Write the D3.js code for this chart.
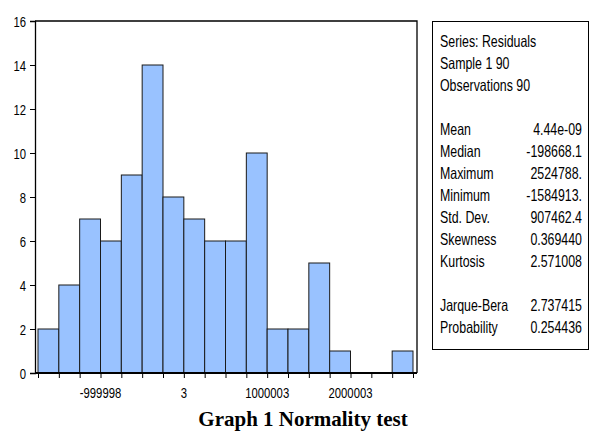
<!DOCTYPE html>
<html lang="en">
  <head>
    <meta charset="utf-8">
    <title>Normality test</title>
    <script src="https://cdn.jsdelivr.net/npm/d3@7"></script>
    <style>
      body { margin: 0; background: #fff; }
      text { font-family: "Liberation Sans", Arial, sans-serif; }
    </style>
  </head>
  <body>
    <div id="chart"></div>
    <script>
      // histogram of residuals
      const binEdges = [-1749998, -1499998, -1249998, -999998, -749998, -499998, -249998, 2,
                        250002, 500002, 750002, 1000002, 1250002, 1500002, 1750002, 2000002,
                        2250002, 2500002, 2750002];
      const counts = [2, 4, 7, 6, 9, 14, 8, 7, 6, 6, 10, 2, 2, 5, 1, 0, 0, 1];
      const xLabelValues = [-999998, 2, 1000002, 2000002];
      const xLabelText = ["-999998", "3", "1000003", "2000003"];
      const yTicks = [0, 2, 4, 6, 8, 10, 12, 14, 16];

      const statsHeader = ["Series: Residuals", "Sample 1 90", "Observations 90"];
      const statNames = ["Mean", "Median", "Maximum", "Minimum", "Std. Dev.", "Skewness", "Kurtosis"];
      const statValues = ["4.44e-09", "-198668.1", "2524788.", "-1584913.", "907462.4", "0.369440", "2.571008"];
      const testNames = ["Jarque-Bera", "Probability"];
      const testValues = ["2.737415", "0.254436"];

      const W = 589, H = 432;
      const frame = { left: 35, right: 417, top: 21, bottom: 373 };
      const narrow = 0.78;   // squeeze Liberation Sans to look like Arial Narrow

      const svg = d3.select("#chart").append("svg")
          .attr("width", W)
          .attr("height", H);

      const x = d3.scaleLinear()
          .domain([binEdges[0], binEdges[binEdges.length - 1]])
          .range([38, 413]);

      const y = d3.scaleLinear()
          .domain([0, 16])
          .range([frame.bottom, frame.top]);

      // bars
      svg.append("g")
          .selectAll("rect")
          .data(counts)
          .join("rect")
          .attr("x", (d, i) => x(binEdges[i]))
          .attr("y", d => y(d))
          .attr("width", (d, i) => x(binEdges[i + 1]) - x(binEdges[i]))
          .attr("height", d => y(0) - y(d))
          .attr("fill", "#99c2ff")
          .attr("stroke", "#1a1a1a")
          .attr("stroke-width", 1);

      // frame: top and right
      svg.append("path")
          .attr("d", `M${frame.left},${frame.top}H${frame.right}V${frame.bottom}`)
          .attr("fill", "none")
          .attr("stroke", "#000")
          .attr("stroke-width", 1.3);

      // y axis
      const yAxis = svg.append("g")
          .attr("transform", `translate(${frame.left},0)`)
          .call(d3.axisLeft(y).tickValues(yTicks).tickSize(5));
      yAxis.select(".domain").attr("stroke-width", 1.3);
      yAxis.selectAll("text")
          .attr("font-size", 14.5)
          .attr("fill", "#000")
          .attr("x", -9 / narrow)
          .attr("dy", "0.35em")
          .attr("transform", `scale(${narrow},1)`)
          .style("font-family", '"Liberation Sans", Arial, sans-serif');

      // x axis: ticks at every bin edge
      const xAxis = svg.append("g")
          .attr("transform", `translate(0,${frame.bottom})`)
          .call(d3.axisBottom(x).tickValues(binEdges).tickSize(5).tickFormat(""));
      xAxis.select(".domain")
          .attr("d", `M${frame.left},0H${frame.right}`)
          .attr("stroke-width", 2);

      svg.append("g")
          .selectAll("text")
          .data(xLabelValues)
          .join("text")
          .attr("transform", d => `translate(${x(d)},${frame.bottom + 25}) scale(${narrow},1)`)
          .attr("text-anchor", "middle")
          .attr("font-size", 14.5)
          .text((d, i) => xLabelText[i]);

      // stats box
      const box = { x: 432, y: 21, w: 156, h: 328 };
      svg.append("rect")
          .attr("x", box.x + 0.5)
          .attr("y", box.y + 0.5)
          .attr("width", box.w)
          .attr("height", box.h)
          .attr("fill", "#fff")
          .attr("stroke", "#000")
          .attr("stroke-width", 1);

      const lineH = 22, firstY = 47, labelX = 440, valueX = 582;
      const statsG = svg.append("g").attr("font-size", 16.5).attr("fill", "#000");
      const statNarrow = 0.75;

      function statText(t, px, py, anchor) {
        statsG.append("text")
            .attr("transform", `translate(${px},${py}) scale(${statNarrow},1)`)
            .attr("text-anchor", anchor)
            .text(t);
      }

      statsHeader.forEach((t, i) => statText(t, labelX, firstY + i * lineH, "start"));
      statNames.forEach((t, i) => {
        const yy = firstY + (i + 4) * lineH;
        statText(t, labelX, yy, "start");
        statText(statValues[i], valueX, yy, "end");
      });
      testNames.forEach((t, i) => {
        const yy = firstY + (i + 12) * lineH;
        statText(t, labelX, yy, "start");
        statText(testValues[i], valueX, yy, "end");
      });

      // caption
      svg.append("text")
          .attr("x", 303)
          .attr("y", 426)
          .attr("text-anchor", "middle")
          .attr("font-size", 21)
          .attr("font-weight", "bold")
          .style("font-family", '"Liberation Serif", "Times New Roman", serif')
          .text("Graph 1 Normality test");
    </script>
  </body>
</html>
